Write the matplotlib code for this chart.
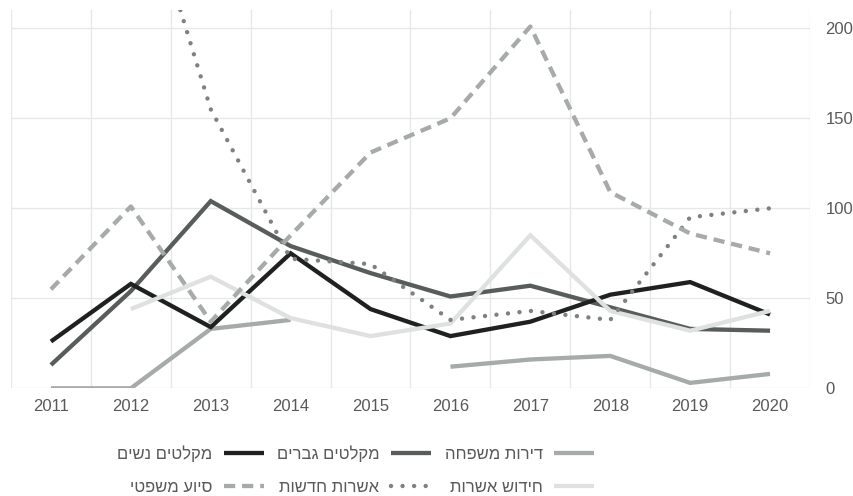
import matplotlib
matplotlib.use('Agg')
import matplotlib.pyplot as plt
from matplotlib.ticker import FixedLocator
import numpy as np

plt.rcParams['font.family'] = ['Liberation Sans', 'DejaVu Sans']

years = ['2011', '2012', '2013', '2014', '2015', '2016', '2017', '2018', '2019', '2020']
nan = np.nan

family_apartments = [0, 0, 33, 38, nan, 12, 16, 18, 3, 8]          # דירות משפחה
mens_shelters = [13, 54, 104, 79, 64, 51, 57, 45, 33, 32]          # מקלטים גברים
womens_shelters = [26, 58, 34, 75, 44, 29, 37, 52, 59, 41]         # מקלטים נשים
visa_renewal = [nan, 44, 62, 39, 29, 36, 85, 43, 32, 43]           # חידוש אשרות
new_visas = [nan, 300, 155, 72, 69, 38, 43, 38, 95, 100]           # אשרות חדשות
legal_aid = [55, 101, 37, 85, 131, 150, 201, 109, 86, 75]          # סיוע משפטי

labels = ['דירות משפחה', 'מקלטים גברים', 'מקלטים נשים',
          'חידוש אשרות', 'אשרות חדשות', 'סיוע משפטי']
y_ticks = [0, 50, 100, 150, 200]

series = [family_apartments, mens_shelters, womens_shelters,
          visa_renewal, new_visas, legal_aid]
styles = [
    dict(color='#a7aaab', lw=3.1, ls='-'),
    dict(color='#585c5b', lw=3.1, ls='-'),
    dict(color='#1f211f', lw=3.1, ls='-'),
    dict(color='#dfe1e1', lw=3.1, ls='-'),
    dict(color='#7d8180', lw=3.2, ls=(0, (0.001, 2.6)), dash_capstyle='round'),
    dict(color='#a7aaab', lw=3.1, ls=(0, (2.6, 1.6)), dash_capstyle='butt'),
]

W, H = 854, 496
fig = plt.figure(figsize=(W / 100, H / 100), dpi=100)
ax = fig.add_axes([11 / W, 1 - 388.3 / H, (810 - 11) / W, (388.3 - 10.3) / H])

x = np.arange(len(years))
handles = []
for vals, st, lab in zip(series, styles, labels):
    ln, = ax.plot(x, np.array(vals, dtype=float), label=lab[::-1],
                  solid_joinstyle='miter', solid_capstyle='butt', **st)
    handles.append(ln)

ax.set_xlim(-0.5, len(years) - 0.5)
ax.set_ylim(0, 210)
ax.set_xticks(x)
ax.set_xticklabels(years)
ax.xaxis.set_minor_locator(FixedLocator(np.arange(-0.5, len(years), 1.0)))
ax.set_yticks(y_ticks)
ax.yaxis.tick_right()

ax.grid(False)
ax.grid(True, which='minor', axis='x', color='#e6e7e7', lw=1.0)
ax.grid(True, which='major', axis='y', color='#e6e7e7', lw=1.0)
ax.set_axisbelow(True)
for s in ax.spines.values():
    s.set_visible(False)
ax.tick_params(axis='both', which='both', length=0, labelsize=12,
               labelcolor='#595959')
ax.tick_params(axis='x', pad=8)
ax.tick_params(axis='y', pad=11)

# Legend (RTL: text to the left of each marker)
order = [2, 5, 1, 4, 0, 3]
leg = fig.legend([handles[i] for i in order], [labels[i][::-1] for i in order],
                 ncol=3, loc='center', bbox_to_anchor=(355.5 / W, 1 - 470 / H),
                 frameon=False, markerfirst=False, fontsize=12,
                 handlelength=2.4, handletextpad=0.7, columnspacing=0.8,
                 labelspacing=1.05, borderpad=0)
for t in leg.get_texts():
    t.set_color('#595959')

fig.savefig('out.png', dpi=100)
